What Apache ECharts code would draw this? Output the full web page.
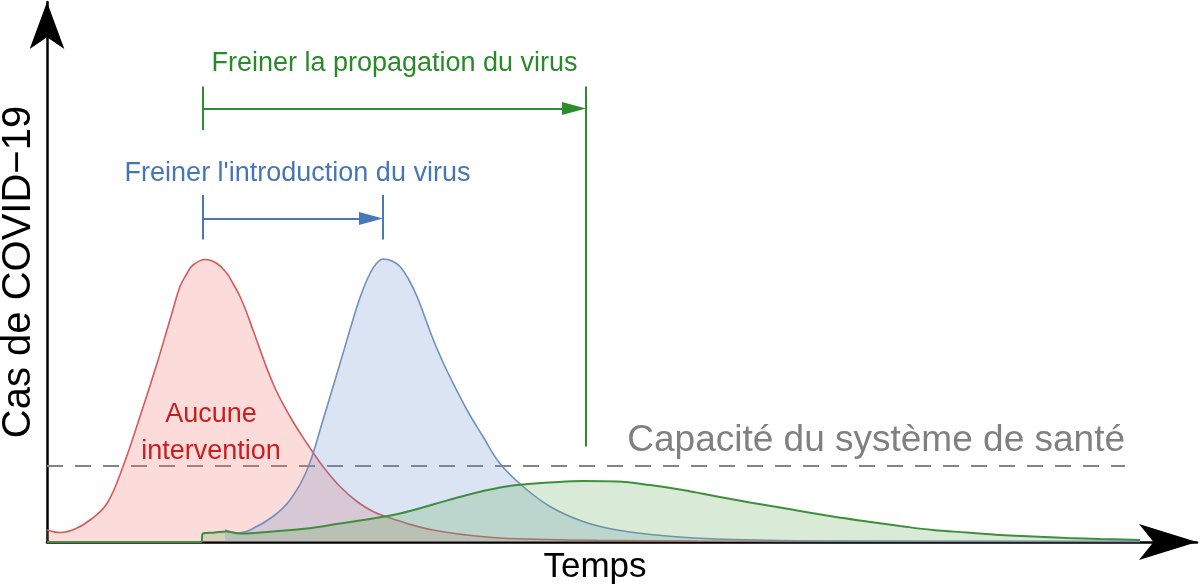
<!DOCTYPE html>
<html><head><meta charset="utf-8">
<script src="https://cdn.jsdelivr.net/npm/echarts@6/dist/echarts.min.js"></script>
<style>html,body{margin:0;padding:0;background:#fff}#c{width:1200px;height:588px}</style>
</head><body><div id="c"></div>
<script>
const FONT = "'Liberation Sans', Arial, Helvetica, sans-serif";

// Curve: no intervention (red)
const redX = [0, 1.3, 2.8, 4.3, 6.0, 7.6, 9.3, 11.0, 12.1, 12.6, 13.3, 14.0, 14.6, 15.8, 17.0, 18.0, 18.6, 19.3, 20.0, 20.6, 22.6, 24.3, 26.0, 27.6, 29.3, 31.0, 32.6, 34.3, 36.0, 38.6, 42.0, 45.3, 50, 55, 65, 80, 109.3];
const redY = [2.4, 1.9, 2.6, 4.4, 7.7, 15.1, 25.1, 35.7, 43.1, 46.5, 51.1, 53.7, 55.4, 56.5, 55.7, 53.7, 51.7, 49.1, 45.7, 42.4, 31.7, 25.1, 19.7, 15.1, 11.1, 8.1, 6.1, 4.8, 3.7, 2.4, 1.4, 0.8, 0.5, 0.35, 0.2, 0.1, 0.1];

// Curve: slowing the introduction (blue)
const blueX = [17.8, 19.1, 20.5, 22.6, 24.3, 26.0, 27.6, 29.3, 31.0, 31.7, 32.3, 32.9, 33.6, 34.5, 35.3, 36.2, 37.0, 37.8, 38.6, 39.5, 40.3, 42.0, 43.6, 45.3, 47.6, 50.3, 53.6, 57.0, 62.0, 68.6, 80, 109.3];
const blueY = [2.4, 1.8, 2.6, 5.1, 8.4, 14.4, 24.4, 35.7, 47.1, 51.0, 53.7, 55.6, 56.6, 56.2, 55.1, 52.4, 49.1, 44.9, 40.6, 36.4, 33.0, 26.4, 21.1, 15.7, 11.1, 7.1, 4.1, 2.4, 1.2, 0.5, 0.2, 0.1];

// Curve: slowing the spread (green)
const greenX = [0, 15.4, 15.6, 16.8, 17.9, 19.3, 20.8, 22.6, 26.0, 29.3, 32.6, 35.3, 38.6, 42.0, 45.3, 47.6, 50.3, 53.6, 57.0, 60.3, 63.6, 67.0, 70.3, 73.6, 78.6, 82.0, 85.3, 88.6, 92.0, 95.3, 98.6, 102.0, 105.3, 109.3];
const greenY = [0, 0, 1.7, 1.9, 2.1, 1.7, 1.8, 2.1, 2.7, 3.7, 4.7, 5.7, 7.5, 9.4, 10.9, 11.5, 11.9, 12.2, 12.1, 11.4, 10.4, 9.1, 7.9, 6.8, 5.1, 4.1, 3.2, 2.4, 1.9, 1.4, 1.1, 0.8, 0.6, 0.4];

// Health system capacity
const capacityLevel = 15.2;
const capacityX = [0, 107.8];
const capacityText = 'Capacité du système de santé';

// Annotation spans (time units) and heights
const introSpanX = [15.6, 33.6];
const introTickY = [60.5, 69.4];
const introArrowY = 64.7;
const propSpanX = [15.6, 53.9];
const propTickY = [82.4, 91.1];
const propArrowY = 86.7;
const propEndY = [19.1, 91.1];
const arrowHalf = 1.2;

// Text annotations
const noteTexts = ['Freiner la propagation du virus', "Freiner l'introduction du virus", 'Aucune\nintervention'];
const noteX = [34.75, 25.05, 16.4];
const noteY = [95.6, 73.6, 21.8];
const noteColors = ['#2A8A2A', '#4676B4', '#C81E1E'];

const axisNames = ['Temps', 'Cas de COVID−19'];

const zip = (xs, ys) => xs.map((x, i) => [x, ys[i]]);

function span(x1, y1, x2, y2, arrow) {
  const a = { coord: [x1, y1], symbol: 'none' };
  const b = { coord: [x2, y2], symbol: arrow ? 'triangle' : 'none', symbolSize: arrow ? [13, 24] : 0 };
  return [a, b];
}

const chart = echarts.init(document.getElementById('c'), null, { renderer: 'canvas' });
chart.setOption({
  animation: false,
  backgroundColor: '#fff',
  textStyle: { fontFamily: FONT },
  grid: { left: 47, right: 3, top: 2, bottom: 46, containLabel: false, outerBoundsMode: 'none' },
  xAxis: {
    type: 'value', min: 0, max: 115,
    name: axisNames[0], nameLocation: 'middle', nameGap: 8,
    nameTextStyle: { fontSize: 35, color: '#000', fontFamily: FONT, padding: [0, 54, 0, 0] },
    axisLine: { show: true, symbol: ['none', 'arrow'], symbolSize: [27, 58], lineStyle: { color: '#000', width: 2.5 } },
    axisTick: { show: false }, axisLabel: { show: false }, splitLine: { show: false }
  },
  yAxis: {
    type: 'value', min: 0, max: 108,
    name: axisNames[1], nameLocation: 'middle', nameGap: 8,
    nameTextStyle: { fontSize: 40, color: '#000', fontFamily: FONT },
    axisLine: { show: true, symbol: ['none', 'arrow'], symbolSize: [26, 47], lineStyle: { color: '#000', width: 2.5 } },
    axisTick: { show: false }, axisLabel: { show: false }, splitLine: { show: false }
  },
  series: [
    {
      name: 'capacity', type: 'line', z: 1, silent: true, symbol: 'none',
      data: capacityX.map(x => [x, capacityLevel]),
      lineStyle: { color: '#848484', width: 2, type: [16, 12] },
      markLine: {
        silent: true, z: 1, symbol: ['none', 'none'],
        lineStyle: { color: 'rgba(0,0,0,0)', width: 0 },
        label: { show: true, position: 'insideEndTop', distance: [0, 7], formatter: capacityText,
                 fontSize: 37, color: '#808080', fontFamily: FONT },
        data: [[{ coord: [capacityX[0], capacityLevel] }, { coord: [capacityX[1], capacityLevel] }]]
      }
    },
    {
      name: 'red', type: 'line', z: 2, silent: true, symbol: 'none', smooth: 0.4,
      data: zip(redX, redY),
      lineStyle: { color: '#D65A5A', width: 1.6 },
      areaStyle: { color: 'rgba(244,110,110,0.36)' }
    },
    {
      name: 'blue', type: 'line', z: 3, silent: true, symbol: 'none', smooth: 0.4,
      data: zip(blueX, blueY),
      lineStyle: { color: '#7090C0', width: 1.6 },
      areaStyle: { color: 'rgba(100,140,200,0.33)' },
      markLine: {
        silent: true, symbol: ['none', 'none'],
        lineStyle: { color: '#4A78B5', width: 2, type: 'solid' },
        label: { show: false },
        data: [
          span(introSpanX[0], introTickY[0], introSpanX[0], introTickY[1], false),
          span(introSpanX[1], introTickY[0], introSpanX[1], introTickY[1], false),
          span(introSpanX[0], introArrowY, introSpanX[1] - arrowHalf, introArrowY, true)
        ]
      }
    },
    {
      name: 'green', type: 'line', z: 4, silent: true, symbol: 'none', smooth: 0.4,
      data: zip(greenX, greenY),
      lineStyle: { color: '#3E8E3E', width: 2 },
      areaStyle: { color: 'rgba(90,170,80,0.33)' },
      markLine: {
        silent: true, symbol: ['none', 'none'],
        lineStyle: { color: '#2E8B2E', width: 2, type: 'solid' },
        label: { show: false },
        data: [
          span(propSpanX[0], propTickY[0], propSpanX[0], propTickY[1], false),
          span(propSpanX[1], propEndY[0], propSpanX[1], propEndY[1], false),
          span(propSpanX[0], propArrowY, propSpanX[1] - arrowHalf, propArrowY, true)
        ]
      }
    },
    {
      name: 'notes', type: 'scatter', z: 6, silent: true, symbolSize: 0,
      itemStyle: { opacity: 1 },
      data: noteTexts.map((t, i) => ({
        value: [noteX[i], noteY[i]], name: t,
        label: { color: noteColors[i] }
      })),
      label: {
        show: true, position: 'inside', formatter: p => p.name, opacity: 1,
        fontSize: 27, lineHeight: 37, fontFamily: FONT, align: 'center', verticalAlign: 'middle'
      }
    }
  ]
});
</script></body></html>
